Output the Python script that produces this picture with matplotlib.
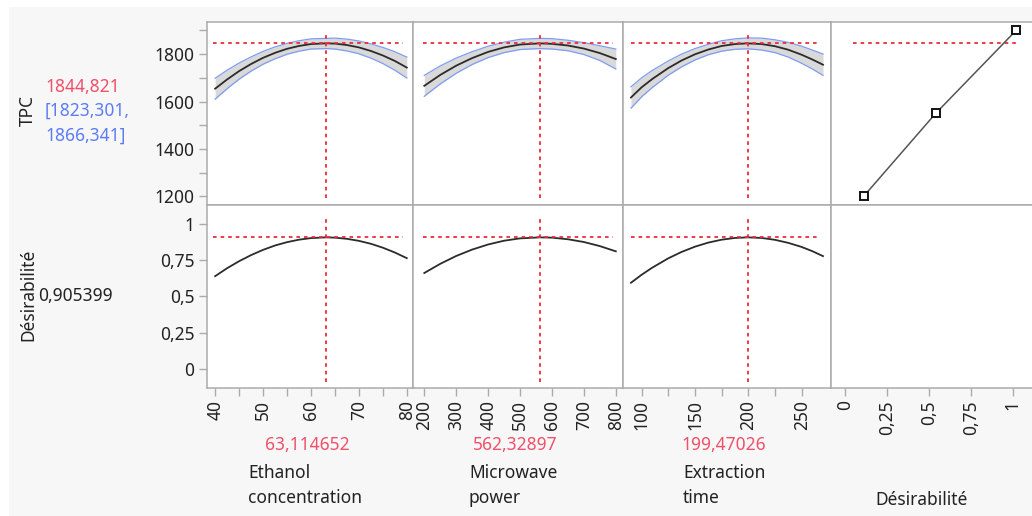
import numpy as np
import matplotlib
matplotlib.use("Agg")
from matplotlib import pyplot as plt
from matplotlib.patches import Rectangle

plt.rcParams["font.family"] = ["Noto Sans", "DejaVu Sans"]
W, H = 1032, 516

# profile traces
eth_x = [40, 42.5, 45, 47.5, 50, 52.5, 55, 57.5, 60, 63.1, 65, 67.5, 70, 72.5, 75, 77.5, 80]
eth_tpc = [1654, 1693, 1728, 1758, 1784, 1805, 1822, 1834, 1842, 1845, 1844, 1838, 1828, 1813, 1794, 1771, 1743]
eth_hi = [1698, 1732, 1762, 1788, 1811, 1830, 1845, 1856, 1864, 1866, 1867, 1863, 1855, 1843, 1828, 1810, 1787]
eth_lo = [1610, 1654, 1694, 1728, 1757, 1780, 1799, 1812, 1821, 1823, 1821, 1813, 1801, 1783, 1760, 1732, 1699]
eth_d = [0.638, 0.693, 0.741, 0.783, 0.819, 0.849, 0.872, 0.889, 0.900, 0.905, 0.903, 0.895, 0.881, 0.861,
         0.834, 0.801, 0.762]

mw_x = [200, 250, 300, 350, 400, 450, 500, 562.3, 600, 650, 700, 750, 800]
mw_tpc = [1666, 1712, 1751, 1783, 1809, 1828, 1840, 1845, 1843, 1836, 1823, 1804, 1779]
mw_hi = [1710, 1750, 1783, 1810, 1833, 1850, 1862, 1866, 1865, 1858, 1848, 1835, 1821]
mw_lo = [1622, 1674, 1719, 1756, 1785, 1806, 1819, 1823, 1821, 1814, 1798, 1773, 1737]
mw_d = [0.660, 0.723, 0.777, 0.821, 0.856, 0.882, 0.898, 0.905, 0.903, 0.892, 0.873, 0.845, 0.809]

et_x = [90, 100, 110, 125, 137.5, 150, 162.5, 175, 187.5, 199.5, 212.5, 225, 237.5, 250, 260, 270]
et_tpc = [1617, 1660, 1695, 1741, 1773, 1799, 1819, 1834, 1842, 1845, 1842, 1833, 1818, 1797, 1777, 1755]
et_hi = [1662, 1700, 1731, 1771, 1800, 1823, 1841, 1856, 1864, 1868, 1867, 1860, 1849, 1833, 1817, 1800]
et_lo = [1572, 1620, 1659, 1711, 1746, 1775, 1797, 1812, 1820, 1822, 1817, 1806, 1787, 1761, 1737, 1710]
et_d = [0.593, 0.648, 0.697, 0.761, 0.805, 0.841, 0.869, 0.889, 0.901, 0.905, 0.901, 0.888, 0.867, 0.839,
        0.810, 0.776]

# desirability function
des_tpc = [1200, 1550, 1900]
des_val = [0.11, 0.54, 1.02]

settings = [63.114652, 562.32897, 199.47026]
setting_labels = ["63,114652", "562,32897", "199,47026"]
tpc_pred = 1844.821
d_pred = 0.905399

x_ticks = [[40, 50, 60, 70, 80], [200, 300, 400, 500, 600, 700, 800], [100, 150, 200, 250], [0, 0.25, 0.5, 0.75, 1]]
x_ticklabels = [["40", "50", "60", "70", "80"], ["200", "300", "400", "500", "600", "700", "800"],
                ["100", "150", "200", "250"], ["0", "0,25", "0,5", "0,75", "1"]]
x_minor = [[45, 55, 65, 75], [], [125, 175, 225], []]
x_lims = [(38.3, 81.3), (164.6, 822.6), (82.5, 277.5), (-0.084, 1.12)]
tpc_ticks = [1200, 1400, 1600, 1800]
tpc_minor = [1300, 1500, 1700, 1900]
d_ticks = [0, 0.25, 0.5, 0.75, 1]
d_ticklabels = ["0", "0,25", "0,5", "0,75", "1"]

red = "#ec2a40"
spine_col = "#ababab"
txt = "#222222"

fig = plt.figure(figsize=(W / 100, H / 100), dpi=100, facecolor="white")
fig.add_artist(Rectangle((9 / W, 0), 1, 1 - 7 / H, transform=fig.transFigure,
                         facecolor="#f7f7f7", edgecolor="none", zorder=-10))

cols = [(207, 413), (413, 623), (623, 831), (831, 1033)]
rows = [(22, 204.5), (204.5, 388)]
hfrac = [(0.03, 0.95), (0.046, 0.95), (0.038, 0.947), (0.108, 0.925)]


def make_ax(c, r):
    x0, x1 = cols[c]
    y0, y1 = rows[r]
    ax = fig.add_axes([x0 / W, 1 - y1 / H, (x1 - x0) / W, (y1 - y0) / H])
    ax.set_facecolor("white")
    for s in ax.spines.values():
        s.set_color(spine_col)
        s.set_linewidth(1.1)
    ax.tick_params(which="both", direction="out", length=6, width=1, color=spine_col,
                   labelsize=12.5, labelcolor=txt, pad=3)
    ax.set_xlim(*x_lims[c])
    if r == 0:
        ax.set_ylim(1166, 1935)
    else:
        ax.set_ylim(-0.131, 1.131)
    if c == 0:
        if r == 0:
            ax.set_yticks(tpc_ticks)
            ax.set_yticks(tpc_minor, minor=True)
        else:
            ax.set_yticks(d_ticks)
            ax.set_yticklabels(d_ticklabels)
    else:
        ax.set_yticks([])
    if r == 1:
        ax.set_xticks(x_ticks[c])
        ax.set_xticklabels(x_ticklabels[c], rotation=90)
        ax.set_xticks(x_minor[c], minor=True)
    else:
        ax.set_xticks([])
    if c == 3:
        ax.spines["right"].set_visible(False)
    return ax


traces = [(eth_x, eth_tpc, eth_hi, eth_lo, eth_d),
          (mw_x, mw_tpc, mw_hi, mw_lo, mw_d),
          (et_x, et_tpc, et_hi, et_lo, et_d)]

for c, (xs, tpc, hi, lo, dv) in enumerate(traces):
    ax = make_ax(c, 0)
    ax.fill_between(xs, lo, hi, color="#d9d9d9", lw=0)
    ax.plot(xs, hi, color="#7f9cf2", lw=0.9)
    ax.plot(xs, lo, color="#7f9cf2", lw=0.9)
    ax.plot(xs, tpc, color="#2b2b2b", lw=1.3)
    ax.axhline(tpc_pred, hfrac[c][0], hfrac[c][1], color=red, lw=1.3, ls=(0, (2, 2.2)))
    ax.axvline(settings[c], 0.033, 0.93, color=red, lw=1.3, ls=(0, (2, 2.2)))

    ax = make_ax(c, 1)
    ax.plot(xs, dv, color="#2b2b2b", lw=1.3)
    ax.axhline(d_pred, hfrac[c][0], hfrac[c][1], color=red, lw=1.3, ls=(0, (2, 2.2)))
    ax.axvline(settings[c], 0.033, 0.934, color=red, lw=1.3, ls=(0, (2, 2.2)))

ax = make_ax(3, 0)
ax.axhline(tpc_pred, hfrac[3][0], hfrac[3][1], color=red, lw=1.3, ls=(0, (2, 2.2)))
ax.plot(des_val, des_tpc, color="#555555", lw=1.1, marker="s", markersize=6,
        markerfacecolor="white", markeredgecolor="#111111", markeredgewidth=1.4)
make_ax(3, 1)


def ftext(x, y, s, **kw):
    fig.text(x / W, 1 - y / H, s, fontsize=12.5, **kw)


ftext(28, 111, "TPC", rotation=90, ha="center", va="center", color=txt)
ftext(45, 87, "1844,821", ha="left", va="center", color="#f0506a")
ftext(45, 111, "[1823,301,", ha="left", va="center", color="#5c7cf5")
ftext(45, 136, "1866,341]", ha="left", va="center", color="#5c7cf5")
ftext(28, 295, "Désirabilité", rotation=90, ha="center", va="center", color=txt)
ftext(38, 296, "0,905399", ha="left", va="center", color=txt)

set_x = [307, 515, 724]
name_x = [248, 469, 683]
names = [["Ethanol", "concentration"], ["Microwave", "power"], ["Extraction", "time"]]
for i in range(3):
    ftext(set_x[i], 445, setting_labels[i], ha="center", va="center", color="#f0506a")
    ftext(name_x[i], 473, names[i][0], ha="left", va="center", color=txt)
    ftext(name_x[i], 498, names[i][1], ha="left", va="center", color=txt)
ftext(922, 500, "Désirabilité", ha="center", va="center", color=txt)

fig.savefig("out.png", dpi=100, facecolor=fig.get_facecolor())
